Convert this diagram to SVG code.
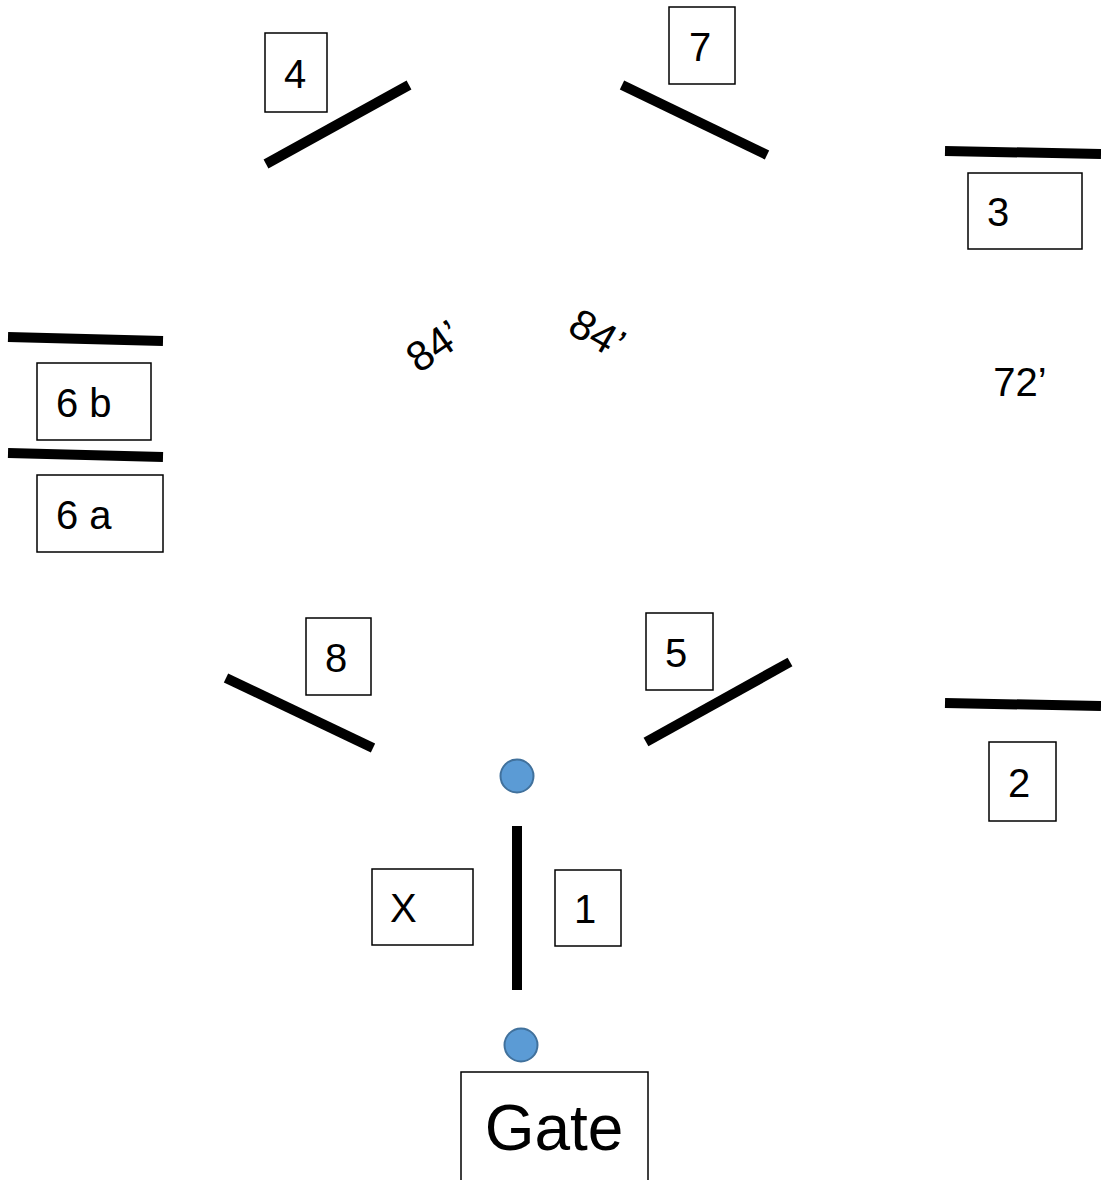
<svg xmlns="http://www.w3.org/2000/svg" width="1101" height="1180" viewBox="0 0 1101 1180">
<style>
.box{fill:#fff;stroke:#000;stroke-width:1.5}
.lbl{font-family:"Liberation Sans",Arial,sans-serif;font-size:40px;fill:#000}
.bar{stroke:#000;stroke-width:10;fill:none}
.dot{fill:#5B9BD5;stroke:#41719C;stroke-width:2}
</style>
<rect width="1101" height="1180" fill="#fff"/>
<g id="connectors">
<line class="bar" x1="266" y1="164" x2="409" y2="85"/>
<line class="bar" x1="622" y1="85" x2="767" y2="155"/>
<line class="bar" x1="945" y1="151" x2="1101" y2="154"/>
<line class="bar" x1="8" y1="337" x2="163" y2="341"/>
<line class="bar" x1="8" y1="453" x2="163" y2="457"/>
<line class="bar" x1="226" y1="678" x2="373" y2="748"/>
<line class="bar" x1="646" y1="742" x2="790" y2="662"/>
<line class="bar" x1="945" y1="703" x2="1101" y2="706"/>
<line class="bar" x1="517" y1="826" x2="517" y2="990" stroke-width="11"/>
</g>
<g id="node4"><rect class="box" x="265" y="33" width="62" height="79"/><text class="lbl" x="284" y="88">4</text></g>
<g id="node7"><rect class="box" x="669" y="7" width="66" height="77"/><text class="lbl" x="689" y="61">7</text></g>
<g id="node3"><rect class="box" x="968" y="173" width="114" height="76"/><text class="lbl" x="987" y="226">3</text></g>
<g id="node6b"><rect class="box" x="37" y="363" width="114" height="77"/><text class="lbl" x="56" y="417">6 b</text></g>
<g id="node6a"><rect class="box" x="37" y="475" width="126" height="77"/><text class="lbl" x="56" y="529">6 a</text></g>
<g id="node8"><rect class="box" x="306" y="618" width="65" height="77"/><text class="lbl" x="325" y="672">8</text></g>
<g id="node5"><rect class="box" x="646" y="613" width="67" height="77"/><text class="lbl" x="665" y="667">5</text></g>
<g id="node2"><rect class="box" x="989" y="742" width="67" height="79"/><text class="lbl" x="1008" y="797">2</text></g>
<g id="nodeX"><rect class="box" x="372" y="869" width="101" height="76"/><text class="lbl" x="390" y="922">X</text></g>
<g id="node1"><rect class="box" x="555" y="870" width="66" height="76"/><text class="lbl" x="574" y="923">1</text></g>
<g id="gate"><rect class="box" x="461" y="1072" width="187" height="120"/><text class="lbl" x="554" y="1150" text-anchor="middle" style="font-size:64px">Gate</text></g>
<g id="dot1"><circle class="dot" cx="517" cy="776" r="16.5"/></g>
<g id="dot2"><circle class="dot" cx="521" cy="1045" r="16.5"/></g>
<g id="dim-left"><text class="lbl" style="font-size:42px" text-anchor="middle" transform="translate(442,358) rotate(-35)">84’</text></g>
<g id="dim-mid"><text class="lbl" style="font-size:42px" text-anchor="middle" transform="translate(590,346) rotate(30)">84’</text></g>
<g id="dim-right"><text class="lbl" text-anchor="middle" x="1020" y="396">72’</text></g>
</svg>
